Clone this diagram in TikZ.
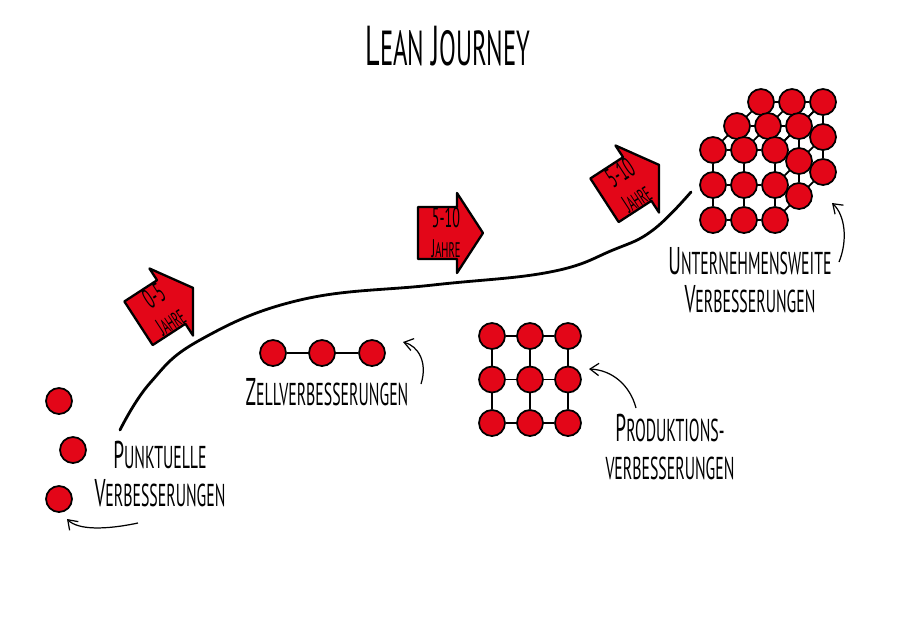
\documentclass[tikz,border=0pt]{standalone}
\usepackage{fontspec}
\setmainfont[FakeStretch=0.5]{PT Sans}
\usetikzlibrary{arrows.meta, backgrounds}
\definecolor{ljRed}{HTML}{E30618}
\newcommand{\ljinit}[1]{{\fontsize{22}{21.6}\selectfont #1}}

\begin{document}
\begin{tikzpicture}[
    x=0.02cm, y=-0.02cm,
    dot/.style={circle, draw=black, fill=ljRed, line width=1pt, minimum size=0.52cm, inner sep=0pt},
    link/.style={black, line width=1pt},
    journey/.style={black, line width=1.6pt, line cap=round},
    hint/.style={-{Straight Barb[length=5pt, width=7pt]}, line width=0.7pt},
    lbl/.style={align=center, inner sep=0pt, font=\fontsize{18}{21.6}\selectfont},
    yearbox/.style={draw=black, fill=ljRed, line width=1.3pt, line join=round},
    yeartxt/.style={align=center, inner sep=0pt, transform shape, font=\fontsize{16}{17}\selectfont},
  ]
  \useasboundingbox (0,0) rectangle (900,620);

  % title
  \node[font=\fontsize{28}{30}\selectfont] (title) at (448,46)
    {{\fontsize{32}{30}\selectfont L}EAN {\fontsize{32}{30}\selectfont J}OURNEY};

  % journey line
  \draw[journey] plot[smooth, tension=0.7] coordinates
    {(120,430) (150,383) (200,340) (300,300) (433,285) (550,272) (613,250) (653,230) (691,192)};

  % year arrows
  \foreach \px/\py/\ang/\yrs [count=\k] in {162/308/33/0-5, 446/233/0/5-10, 628/185/33/5-10} {
    \begin{scope}[shift={(\px,\py)}, rotate=\ang]
      \draw[yearbox] (-28,-26) -- (11,-26) -- (11,-40) -- (37,0) -- (11,40) -- (11,26) -- (-28,26) -- cycle;
      \node[yeartxt] (yrs\k) at (0,0)
        {\yrs\\{\fontsize{14.5}{17}\selectfont J}{\fontsize{12}{17}\selectfont AHRE}};
    \end{scope}
  }

  % punctual improvements
  \node[dot] (p1) at (59,401) {};
  \node[dot] (p2) at (73,450) {};
  \node[dot] (p3) at (59,499) {};
  \node[lbl] (punkt) at (160,474) {\ljinit{P}UNKTUELLE\\\ljinit{V}ERBESSERUNGEN};
  \coordinate (punkt-tail) at (138,523);
  \coordinate (punkt-tip) at (67,519);
  \draw[hint] (punkt-tail) .. controls (105,530) and (78,530) .. (punkt-tip);

  % cell improvements
  \foreach \i/\x in {1/273, 2/322, 3/372}
    \node[dot] (c\i) at (\x,353) {};
  \node[lbl] (zell) at (327,392) {\ljinit{Z}ELLVERBESSERUNGEN};
  \coordinate (zell-tail) at (421,384);
  \coordinate (zell-tip) at (403,342);
  \draw[hint] (zell-tail) .. controls (428,362) and (418,346) .. (zell-tip);

  % production improvements
  \foreach \i in {0,1,2}
    \foreach \j in {0,1,2}
      \node[dot] (g\i\j) at ({492+38*\i},{336+43.5*\j}) {};
  \node[lbl] (prod) at (670,447) {\ljinit{P}RODUKTIONS-\\VERBESSERUNGEN};
  \coordinate (prod-tail) at (636,408);
  \coordinate (prod-tip) at (589,369);
  \draw[hint] (prod-tail) .. controls (630,385) and (612,370) .. (prod-tip);

  % company-wide improvements
  \foreach \d in {2,1,0}
    \foreach \i in {0,1,2}
      \foreach \j in {0,1,2} {
        \pgfmathtruncatemacro\vis{(\d==0)||(\j==0)||(\i==2)}
        \ifnum\vis=1
          \node[dot] (q\i\j\d) at ({713+31*\i+24*\d},{150+35*\j-24*\d}) {};
        \fi
      }
  \node[lbl] (unter) at (750,280) {\ljinit{U}NTERNEHMENSWEITE\\\ljinit{V}ERBESSERUNGEN};
  \coordinate (unter-tail) at (839,262);
  \coordinate (unter-tip) at (832,203);
  \draw[hint] (unter-tail) .. controls (848,240) and (845,215) .. (unter-tip);

  \begin{pgfonlayer}{background}
    \fill[white] (0,0) rectangle (900,620);
    \draw[link] (c1) -- (c3);
    \foreach \k in {0,1,2} {
      \draw[link] (g0\k) -- (g2\k);
      \draw[link] (g\k0) -- (g\k2);
      \draw[link] (q0\k0) -- (q2\k0);
      \draw[link] (q\k00) -- (q\k20);
      \draw[link] (q\k00) -- (q\k02);
      \draw[link] (q2\k0) -- (q2\k2);
    }
    \foreach \d in {1,2} {
      \draw[link] (q00\d) -- (q20\d);
      \draw[link] (q20\d) -- (q22\d);
    }
  \end{pgfonlayer}
\end{tikzpicture}
\end{document}
